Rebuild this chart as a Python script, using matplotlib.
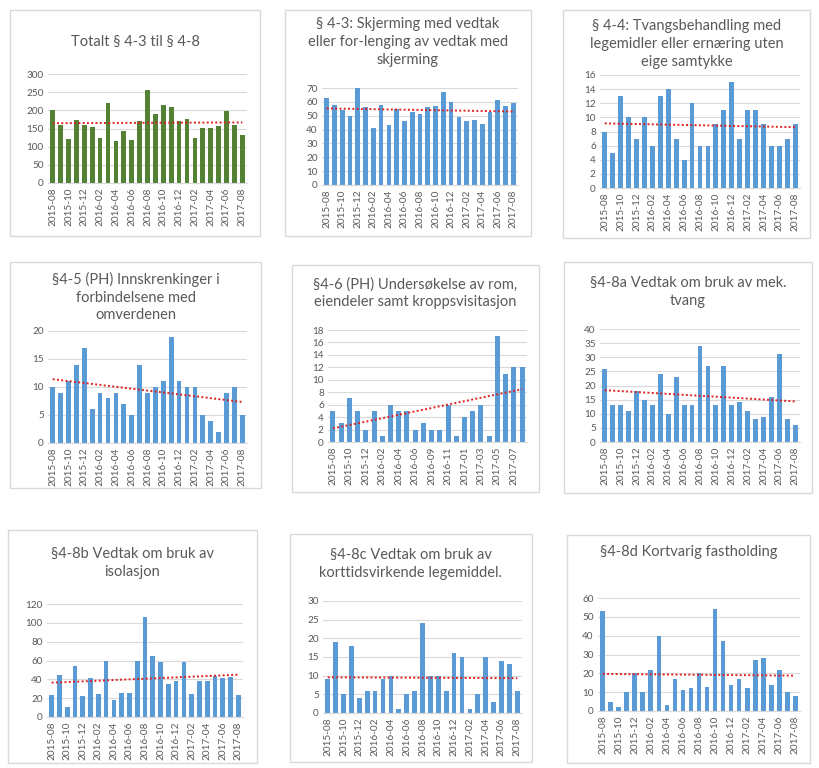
import numpy as np
import matplotlib
matplotlib.use('Agg')
import matplotlib.pyplot as plt
from matplotlib.patches import Rectangle

plt.rcParams['font.family'] = ['Lato', 'DejaVu Sans']

# Months 2015-08 .. 2017-08
months = ['2015-08', '2015-09', '2015-10', '2015-11', '2015-12', '2016-01', '2016-02',
          '2016-03', '2016-04', '2016-05', '2016-06', '2016-07', '2016-08', '2016-09',
          '2016-10', '2016-11', '2016-12', '2017-01', '2017-02', '2017-03', '2017-04',
          '2017-05', '2017-06', '2017-07', '2017-08']
# panel 4-6 is missing one month
months_46 = ['2015-08', '2015-09', '2015-10', '2015-11', '2015-12', '2016-01', '2016-02',
             '2016-03', '2016-04', '2016-05', '2016-06', '2016-07', '2016-09',
             '2016-10', '2016-11', '2016-12', '2017-01', '2017-02', '2017-03', '2017-04',
             '2017-05', '2017-06', '2017-07', '2017-08']

totalt = [200, 160, 120, 173, 160, 153, 125, 220, 115, 142, 117, 172, 255,
          190, 216, 209, 170, 175, 124, 151, 151, 156, 197, 160, 131]
p43 = [63, 58, 54, 50, 70, 56, 41, 58, 43, 55, 46, 53, 51,
       56, 57, 67, 60, 49, 46, 47, 44, 53, 61, 57, 59]
p44 = [8, 5, 13, 10, 7, 10, 6, 13, 14, 7, 4, 12, 6,
       6, 9, 11, 15, 7, 11, 11, 9, 6, 6, 7, 9]
p45 = [10, 9, 11, 14, 17, 6, 9, 8, 9, 7, 5, 14, 9,
       10, 11, 19, 11, 10, 10, 5, 4, 2, 9, 10, 5]
p46 = [5, 3, 7, 5, 2, 5, 1, 6, 5, 5, 2, 3,
       2, 2, 6, 1, 4, 5, 6, 1, 17, 11, 12, 12]
p48a = [26, 13, 13, 11, 18, 15, 13, 24, 10, 23, 13, 13, 34,
        27, 13, 27, 13, 14, 11, 8, 9, 16, 31, 8, 6]
p48b = [23, 45, 11, 54, 22, 41, 24, 59, 18, 25, 26, 59, 106,
        65, 58, 35, 38, 58, 24, 38, 38, 44, 41, 42, 23]
p48c = [9, 19, 5, 18, 4, 6, 6, 9, 10, 1, 5, 6, 24,
        10, 10, 6, 16, 15, 1, 5, 15, 3, 14, 13, 6]
p48d = [53, 5, 2, 10, 20, 10, 22, 40, 3, 17, 11, 12, 20,
        13, 54, 37, 14, 17, 12, 27, 28, 14, 22, 10, 8]

W, H = 820, 768
fig = plt.figure(figsize=(W / 100, H / 100), dpi=100)
fig.patch.set_facecolor('white')

TXT = '#595959'
BLUE = '#5B9BD5'
GREEN = '#548235'


def frac(x0, y0, x1, y1):
    return [x0 / W, 1 - y1 / H, (x1 - x0) / W, (y1 - y0) / H]


def panel(box, axbox, title, title_y, labels, vals, ymax, ystep, color):
    # ramme rundt hvert diagram
    fig.patches.append(Rectangle((box[0] / W, 1 - box[3] / H), (box[2] - box[0]) / W,
                                 (box[3] - box[1]) / H, transform=fig.transFigure,
                                 fill=False, edgecolor='#d9d9d9', linewidth=1))
    fig.text((box[0] + box[2]) / 2 / W, 1 - title_y / H, title, ha='center', va='center',
             fontsize=10.5, color=TXT, linespacing=1.35)
    ax = fig.add_axes(frac(*axbox))
    x = np.arange(len(vals))
    ax.bar(x, vals, width=0.6, color=color, zorder=2)
    # lineær trendlinje
    k, m = np.polyfit(x, vals, 1)
    ax.plot([x[0], x[-1]], [m, k * x[-1] + m], linestyle=(0, (1, 1.2)), color='#E02020',
            linewidth=1.4, zorder=3)
    ax.set_xlim(-0.6, len(vals) - 0.4)
    ax.set_ylim(0, ymax)
    ax.set_yticks(np.arange(0, ymax + 0.1, ystep))
    ax.yaxis.grid(True, color='#d9d9d9', linewidth=0.8, zorder=0)
    ax.set_axisbelow(True)
    ticks = list(range(0, len(vals), 2))
    ax.set_xticks(ticks)
    ax.set_xticklabels([labels[i] for i in ticks], rotation=90)
    ax.tick_params(axis='both', length=0, labelsize=7.2, colors=TXT, pad=3)
    for s in ['top', 'right', 'left']:
        ax.spines[s].set_visible(False)
    ax.spines['bottom'].set_color('#d9d9d9')
    return ax


panel((10, 10, 260, 236), (48, 74, 247, 183), 'Totalt § 4-3 til § 4-8', 42,
      months, totalt, 300, 50, GREEN)
panel((285, 10, 531, 236), (322, 88, 518, 185),
      '§ 4-3: Skjerming med vedtak\neller for-lenging av vedtak med\nskjerming', 42,
      months, p43, 70, 10, BLUE)
panel((563, 10, 810, 238), (600, 75, 800, 188),
      '§ 4-4: Tvangsbehandling med\nlegemidler eller ernæring uten\neige samtykke', 44,
      months, p44, 16, 2, BLUE)
panel((10, 262, 261, 488), (48, 331, 247, 443),
      '§4-5 (PH) Innskrenkinger i\nforbindelsene med\nomverdenen', 297,
      months, p45, 20, 5, BLUE)
panel((292, 265, 539, 492), (328, 330, 527, 442),
      '§4-6 (PH) Undersøkelse av rom,\neiendeler samt kroppsvisitasjon', 293,
      months_46, p46, 18, 2, BLUE)
panel((564, 262, 812, 493), (600, 329, 800, 442),
      '§4-8a Vedtak om bruk av mek.\ntvang', 292,
      months, p48a, 40, 5, BLUE)
panel((8, 530, 257, 763), (47, 604, 243, 717),
      '§4-8b Vedtak om bruk av\nisolasjon', 563,
      months, p48b, 120, 20, BLUE)
panel((290, 534, 532, 762), (323, 601, 522, 713),
      '§4-8c Vedtak om bruk av\nkorttidsvirkende legemiddel.', 564,
      months, p48c, 30, 5, BLUE)
panel((567, 535, 810, 763), (598, 598, 800, 711),
      '§4-8d Kortvarig fastholding', 552,
      months, p48d, 60, 10, BLUE)

fig.savefig('out.png', dpi=100, facecolor='white')
